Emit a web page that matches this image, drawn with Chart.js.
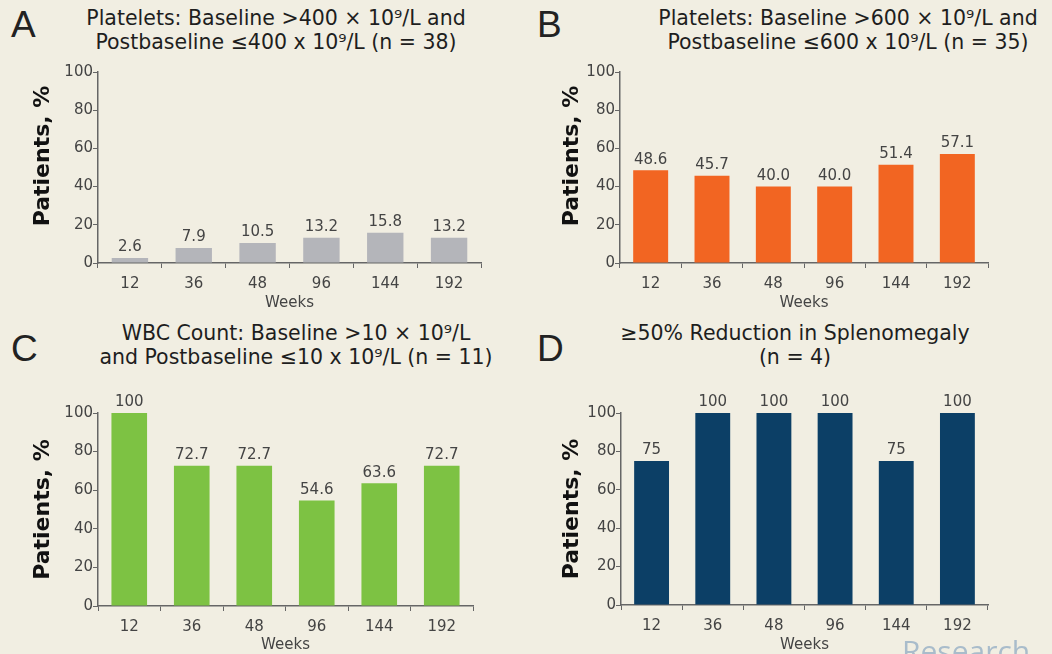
<!DOCTYPE html>
<html>
<head>
<meta charset="utf-8">
<script src="https://cdn.jsdelivr.net/npm/chart.js@4.4.1/dist/chart.umd.min.js"></script>
<style>
  html, body { margin: 0; padding: 0; }
  body {
    width: 1052px; height: 654px; overflow: hidden; position: relative;
    background: #f1eee2; font-family: 'DejaVu Sans', sans-serif; color: #222;
  }
  .box { position: absolute; }
  .letter { position: absolute; font-family: 'Liberation Sans', sans-serif; font-size: 37px; line-height: 37px; color: #222; }
  .title { position: absolute; font-size: 20.5px; line-height: 24px; text-align: center; white-space: nowrap; transform: translateX(-50%); color: #1e1e1e; }
  .mark { position: absolute; left: 902px; top: 630px; font-family: 'Open Sans', sans-serif; font-size: 30px; color: #a9bccb; }
</style>
</head>
<body>
<div class="letter" style="left:11px; top:6px;">A</div>
<div class="letter" style="left:537px; top:6px;">B</div>
<div class="letter" style="left:11px; top:330px;">C</div>
<div class="letter" style="left:537px; top:330px;">D</div>

<div class="title" style="left:276px; top:6px;">Platelets: Baseline &gt;400 × 10⁹/L and<br>Postbaseline ≤400 x 10⁹/L (n = 38)</div>
<div class="title" style="left:848px; top:6px;">Platelets: Baseline &gt;600 × 10⁹/L and<br>Postbaseline ≤600 x 10⁹/L (n = 35)</div>
<div class="title" style="left:296px; top:321px;">WBC Count: Baseline &gt;10 × 10⁹/L<br>and Postbaseline ≤10 x 10⁹/L (n = 11)</div>
<div class="title" style="left:795px; top:321px;">≥50% Reduction in Splenomegaly<br>(n = 4)</div>

<div class="box" style="left:0px; top:55px;"><canvas id="chartA"></canvas></div>
<div class="box" style="left:520px; top:55px;"><canvas id="chartB"></canvas></div>
<div class="box" style="left:0px; top:380px;"><canvas id="chartC"></canvas></div>
<div class="box" style="left:520px; top:380px;"><canvas id="chartD"></canvas></div>

<div class="mark">Research</div>

<script>
// Data
const weeks = ['12', '36', '48', '96', '144', '192'];
const plateletsOver400 = [2.6, 7.9, 10.5, 13.2, 15.8, 13.2];
const plateletsOver600 = [48.6, 45.7, 40.0, 40.0, 51.4, 57.1];
const wbcCount = [100, 72.7, 72.7, 54.6, 63.6, 72.7];
const splenomegaly = [75, 100, 100, 100, 75, 100];
const yTicks = [0, 20, 40, 60, 80, 100];

const axisColor = '#666';
const textColor = '#444';
const fontFamily = "'DejaVu Sans', sans-serif";

// Draws the value above each bar
const barValues = {
    id: 'barValues',
    afterDatasetsDraw(chart, args, opts) {
        const ctx = chart.ctx;
        const meta = chart.getDatasetMeta(0);
        ctx.save();
        ctx.font = '15px ' + fontFamily;
        ctx.fillStyle = textColor;
        ctx.textAlign = 'center';
        ctx.textBaseline = 'bottom';
        meta.data.forEach((bar, i) => {
            const v = chart.data.datasets[0].data[i];
            const text = v >= 100 ? '100' : v.toFixed(opts.decimals);
            ctx.fillText(text, bar.x, bar.y - 3);
        });
        ctx.restore();
    }
};

// Canvas box and wanted plot area, in page pixels
function createPanel(id, values, color, decimals, box, area) {
    const canvas = document.getElementById(id);
    canvas.parentNode.style.width = box.w + 'px';
    canvas.parentNode.style.height = box.h + 'px';
    return new Chart(canvas, {
        type: 'bar',
        data: {
            labels: weeks,
            datasets: [{
                data: values,
                backgroundColor: color,
                categoryPercentage: 1,
                barPercentage: 0.57
            }]
        },
        options: {
            responsive: true,
            maintainAspectRatio: false,
            animation: false,
            layout: {
                padding: { left: 0, top: area.top - box.y, right: box.x + box.w - area.right, bottom: 0 }
            },
            plugins: {
                legend: { display: false },
                tooltip: { enabled: false },
                barValues: { decimals: decimals }
            },
            scales: {
                y: {
                    min: 0,
                    max: 100,
                    afterBuildTicks: (scale) => { scale.ticks = yTicks.map(v => ({ value: v })); },
                    afterFit: (scale) => { scale.width = area.left - box.x; },
                    ticks: { font: { size: 15, family: fontFamily }, color: textColor, padding: 0 },
                    grid: { drawOnChartArea: false, tickLength: 5, color: axisColor },
                    border: { color: axisColor, width: 1.5 },
                    title: {
                        display: true,
                        text: area.yTitle,
                        color: '#111',
                        font: { size: 22, weight: 'bold', family: fontFamily },
                        padding: { top: area.yTitlePad, bottom: 0 }
                    }
                },
                x: {
                    afterFit: (scale) => { scale.height = box.y + box.h - area.bottom; },
                    ticks: { font: { size: 15, family: fontFamily }, color: textColor, padding: 7 },
                    grid: { drawOnChartArea: false, tickLength: 5, color: axisColor, offset: true },
                    border: { color: axisColor, width: 1.5 },
                    title: {
                        display: true,
                        text: 'Weeks',
                        color: textColor,
                        font: { size: 15, family: fontFamily },
                        padding: { top: 0, bottom: area.titlePad }
                    }
                }
            }
        },
        plugins: [barValues]
    });
}

createPanel('chartA', plateletsOver400, '#b4b5ba', 1,
    { x: 0, y: 55, w: 510, h: 260 },
    { left: 98, right: 481, top: 72, bottom: 263, titlePad: 3, yTitle: '   Patients, %', yTitlePad: 30 });
createPanel('chartB', plateletsOver600, '#f26522', 1,
    { x: 520, y: 55, w: 520, h: 260 },
    { left: 620, right: 988, top: 72, bottom: 263, titlePad: 3, yTitle: '   Patients, %', yTitlePad: 39 });
createPanel('chartC', wbcCount, '#7dc243', 1,
    { x: 0, y: 380, w: 510, h: 274 },
    { left: 98, right: 473, top: 413, bottom: 606, titlePad: 0, yTitle: 'Patients, %', yTitlePad: 30 });
createPanel('chartD', splenomegaly, '#0c3f66', 0,
    { x: 520, y: 380, w: 520, h: 274 },
    { left: 621, right: 988, top: 413, bottom: 605, titlePad: 0, yTitle: 'Patients, %', yTitlePad: 39 });
</script>
</body>
</html>
